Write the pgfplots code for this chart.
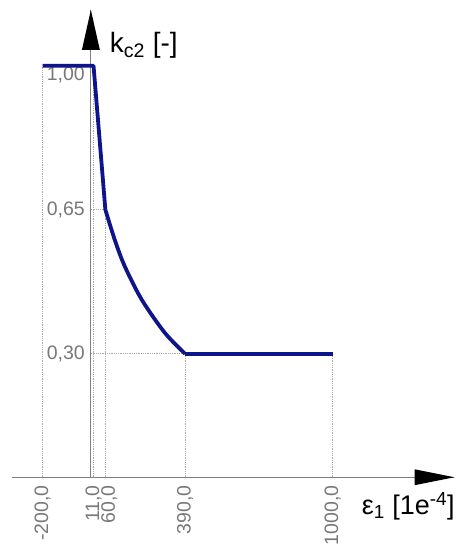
\documentclass[border=0pt]{standalone}
\usepackage{fontspec}
\setmainfont{Liberation Sans}
\usepackage{pgfplots}
\pgfplotsset{compat=1.18}
\definecolor{curve}{RGB}{14,20,138}
\definecolor{tickgray}{RGB}{120,120,120}
\definecolor{gridgray}{RGB}{170,170,170}
\begin{document}
\begin{tikzpicture}
\begin{axis}[
  scale only axis,
  width=442.9pt, height=468pt,
  xmin=-326, xmax=1504, ymin=0, ymax=1.136,
  axis lines=middle,
  axis line style={-, draw=gray, line width=0.8pt},
  clip=false,
  major tick length=0pt,
  xtick={-200,11,390,1000},
  xticklabels={-200{,}0,11{,}0,390{,}0,1000{,}0},
  extra x ticks={60},
  extra x tick labels={60{,}0},
  extra x tick style={xticklabel style={yshift=-4pt}},
  ytick={0.30,0.65},
  yticklabels={0{,}30,0{,}65},
  extra y ticks={1.0},
  extra y tick labels={1{,}00},
  extra y tick style={yticklabel style={anchor=north east, yshift=-1pt}},
  /pgf/number format/assume math mode=true,
  xticklabel style={yshift=-8pt, rotate=90, anchor=east, text=tickgray, inner sep=0pt, font=\fontsize{19.5}{21}\selectfont},
  yticklabel style={anchor=east, text=tickgray, inner sep=0pt, xshift=-6pt, font=\fontsize{19.5}{21}\selectfont},
  xlabel={ε\textsubscript{1} [1e\textsuperscript{-4}]},
  ylabel={k\textsubscript{c2} [-]},
  xlabel style={at={(axis cs:1120,-0.0898)}, anchor=base west, inner sep=0pt, font=\fontsize{27}{30}\selectfont},
  ylabel style={at={(axis cs:78,1.032)}, anchor=base west, inner sep=0pt, font=\fontsize{28}{31}\selectfont},
]
% bounding box of the whole picture
\path (axis cs:-376,-0.1626) rectangle (axis cs:1521,1.160);
% dotted guide lines
\addplot[gridgray, densely dotted, line width=0.8pt, forget plot] coordinates {(-200,0) (-200,1)};
\addplot[gridgray, densely dotted, line width=0.8pt, forget plot] coordinates {(11,0) (11,1)};
\addplot[gridgray, densely dotted, line width=0.8pt, forget plot] coordinates {(60,0) (60,0.65)};
\addplot[gridgray, densely dotted, line width=0.8pt, forget plot] coordinates {(390,0) (390,0.30)};
\addplot[gridgray, densely dotted, line width=0.8pt, forget plot] coordinates {(1000,0) (1000,0.30)};
\addplot[gridgray, densely dotted, line width=0.8pt, forget plot] coordinates {(0,0.65) (60,0.65)};
\addplot[gridgray, densely dotted, line width=0.8pt, forget plot] coordinates {(0,0.30) (390,0.30)};
% curve
\addplot[curve, line width=3.8pt, line join=round, forget plot] coordinates {
  (-200,1.00) (11,1.00) (60,0.65)};
\addplot[curve, line width=3.8pt, line join=round, smooth, forget plot] coordinates {
  (60,0.65) (100,0.575) (140,0.513)
  (210,0.432) (306,0.351) (390,0.30)};
\addplot[curve, line width=3.8pt, line join=round, forget plot] coordinates {
  (390,0.30) (1000,0.30)};
% arrow heads
\fill[black] (axis cs:0,1.136) -- (axis cs:-37,1.039) -- (axis cs:37,1.039) -- cycle;
\fill[black] (axis cs:1504,0) -- (axis cs:1339,0.0194) -- (axis cs:1339,-0.0194) -- cycle;
\end{axis}
\end{tikzpicture}
\end{document}
